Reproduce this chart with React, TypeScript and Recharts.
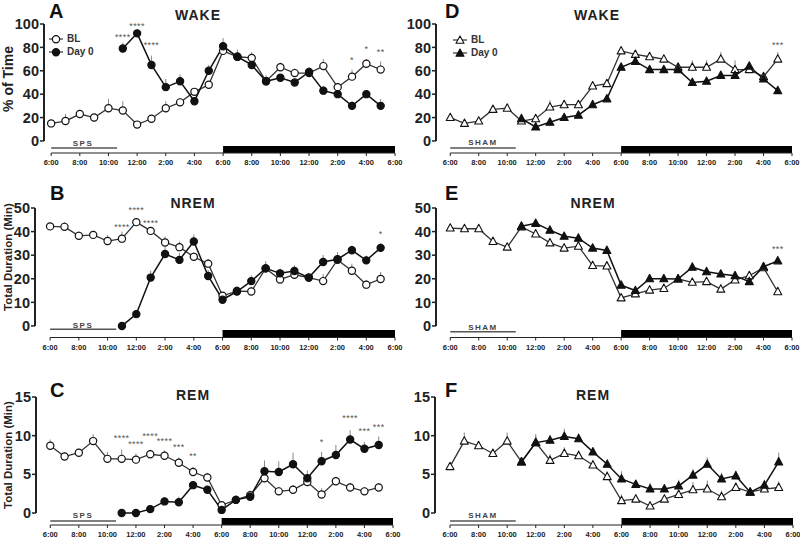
import React from 'react';
import { ComposedChart, Line, Scatter, XAxis, YAxis, ReferenceLine, ReferenceArea, ErrorBar, Legend } from 'recharts';

const FONT = '"Liberation Sans", Arial, sans-serif';

// one point per hour, starting at 6:00 am (0) through 5:00 am next day (23)
const hours = [0, 1, 2, 3, 4, 5, 6, 7, 8, 9, 10, 11, 12, 13, 14, 15, 16, 17, 18, 19, 20, 21, 22, 23];
const xTicks = [0, 2, 4, 6, 8, 10, 12, 14, 16, 18, 20, 22, 24];
const xTickLabels = ['6:00', '8:00', '10:00', '12:00', '2:00', '4:00', '6:00', '8:00', '10:00', '12:00', '2:00', '4:00', '6:00'];
const seriesNames = ['BL', 'Day 0'];

const lightsOff = [12, 24];
const procedureEnd = 4.6;

const _ = null;

// WAKE (% of time)
const wakeSpsBL = [15, 17, 23, 20, 28, 26, 14, 19, 28, 33, 42, 48, 77, 72, 71, 51, 63, 58, 58, 64, 46, 55, 66, 61];
const wakeSpsBLErr = [2, 6, 3, 2, 8, 8, 1, 2, 6, 3, 3, 3, 5, 4, 5, 4, 4, 4, 4, 6, 3, 6, 4, 7];
const wakeSpsDay0 = [_, _, _, _, _, 79, 92, 65, 46, 51, 34, 60, 81, 72, 65, 51, 54, 50, 59, 43, 40, 30, 40, 30];
const wakeSpsDay0Err = [0, 0, 0, 0, 0, 5, 3, 8, 7, 6, 2, 5, 7, 6, 5, 5, 3, 3, 4, 4, 4, 4, 3, 6];
const wakeShamBL = [20, 15, 17, 27, 28, 17, 19, 29, 31, 31, 47, 49, 77, 74, 72, 70, 63, 63, 63, 70, 61, 61, 55, 70];
const wakeShamBLErr = [2, 2, 2, 2, 3, 3, 3, 6, 4, 4, 3, 4, 3, 3, 3, 3, 4, 6, 6, 6, 8, 5, 3, 6];
const wakeShamDay0 = [_, _, _, _, _, 19, 12, 16, 20, 22, 31, 36, 63, 68, 61, 61, 61, 50, 51, 56, 56, 64, 53, 43];
const wakeShamDay0Err = [0, 0, 0, 0, 0, 3, 2, 2, 2, 2, 3, 3, 3, 3, 2, 2, 2, 2, 2, 3, 3, 3, 3, 4];

// NREM (total duration, min)
const nremSpsBL = [42.2, 42, 38.2, 38.6, 36, 37, 44, 40.3, 35.4, 33.4, 29.3, 26.4, 12.8, 14.8, 14.6, 24.4, 19.7, 21.7, 20.5, 19, 28, 23.4, 17.5, 19.9];
const nremSpsBLErr = [1.5, 2, 2, 1.5, 2.5, 3, 1.5, 1.5, 2.5, 2.5, 2, 2, 1.5, 2, 2, 2, 2, 2, 1.5, 3, 2, 3, 2, 3];
const nremSpsDay0 = [_, _, _, _, _, 0, 5, 20.5, 30.5, 28, 35.8, 21.2, 11.1, 14.6, 19, 24.4, 22.3, 23.3, 20.5, 27.1, 28.3, 32.1, 27.8, 33.1];
const nremSpsDay0Err = [0, 0, 0, 0, 0, 1, 1.5, 3, 3, 3, 3, 2.5, 1.5, 2, 2.5, 3, 2, 2.5, 2, 3, 3, 2, 2, 2];
const nremShamBL = [41.5, 41.2, 41.2, 35.8, 33.4, 42, 39, 35.2, 33, 33.8, 25.6, 25.4, 11.9, 13.6, 15.2, 15.9, 19.9, 18.5, 18.8, 15.6, 19.5, 21.3, 24.7, 14.5];
const nremShamBLErr = [1, 1, 1, 1.5, 1.5, 1.5, 2, 2, 2, 2, 2, 2, 1.5, 1.5, 1.5, 1.5, 1.5, 2, 2, 2, 2, 2, 1.5, 2];
const nremShamDay0 = [_, _, _, _, _, 42.3, 43.5, 40.6, 38, 37.2, 33, 32, 17.3, 15, 20, 20, 19.9, 24.9, 23, 22, 21.3, 18.8, 25.1, 27.6];
const nremShamDay0Err = [0, 0, 0, 0, 0, 1.5, 1.2, 1.5, 1.4, 1.5, 1.3, 1.5, 1.6, 1.4, 1.5, 1.2, 1.5, 1.4, 1.5, 1.6, 1.3, 1.5, 2, 1.5];

// REM (total duration, min)
const remSpsBL = [8.7, 7.3, 7.8, 9.3, 7.0, 7.0, 6.9, 7.6, 7.4, 6.5, 5.3, 4.6, 1.0, 1.7, 2.3, 4.5, 2.8, 3.0, 4.0, 2.4, 4.1, 3.3, 2.8, 3.3];
const remSpsBLErr = [0.8, 0.6, 0.5, 0.9, 0.9, 1.2, 0.8, 0.6, 0.7, 0.7, 0.7, 0.6, 0.5, 0.6, 0.6, 0.8, 0.6, 0.6, 0.8, 0.8, 0.6, 0.6, 0.5, 0.6];
const remSpsDay0 = [_, _, _, _, _, 0, 0, 0.5, 1.5, 1.4, 3.6, 3.0, 0.4, 1.7, 2.1, 5.4, 5.3, 6.3, 4.5, 6.7, 7.5, 9.5, 8.3, 8.8];
const remSpsDay0Err = [0, 0, 0, 0, 0, 0.1, 0.1, 0.3, 0.5, 0.7, 0.5, 0.5, 0.4, 0.5, 0.6, 1.4, 1.4, 1.5, 1.0, 1.2, 1.3, 1.2, 0.9, 1.1];
const remShamBL = [6.0, 9.3, 8.7, 7.7, 9.3, 6.6, 9.1, 6.8, 7.7, 7.4, 6.2, 4.7, 1.6, 1.8, 0.9, 1.8, 2.4, 3.0, 3.1, 2.1, 3.3, 2.7, 3.1, 3.3];
const remShamBLErr = [0.4, 1.1, 0.5, 0.6, 1.1, 0.5, 1.1, 0.8, 0.8, 0.7, 0.7, 0.7, 0.8, 0.6, 0.6, 0.5, 0.5, 1.0, 1.1, 0.8, 0.6, 0.5, 0.8, 0.8];
const remShamDay0 = [_, _, _, _, _, 6.6, 9.1, 9.4, 9.9, 9.6, 7.9, 6.3, 4.4, 3.7, 3.1, 3.1, 3.5, 4.9, 6.3, 4.4, 4.8, 2.7, 3.6, 6.6];
const remShamDay0Err = [0, 0, 0, 0, 0, 0.6, 0.9, 0.7, 1.0, 0.7, 0.5, 0.6, 1.0, 0.5, 0.8, 0.6, 0.8, 0.8, 0.9, 0.8, 0.7, 0.5, 0.7, 1.2];

// significance marks: hour, height, text
const wakeSpsStars = [
  { h: 5, y: 91, s: '****' }, { h: 6, y: 100, s: '****' }, { h: 7, y: 84, s: '****' },
  { h: 21, y: 71, s: '*' }, { h: 22, y: 80, s: '*' }, { h: 23, y: 78, s: '**' },
];
const wakeShamStars = [{ h: 23, y: 84, s: '***' }];
const nremSpsStars = [
  { h: 5, y: 42.6, s: '****' }, { h: 6, y: 50, s: '****' }, { h: 7, y: 44.3, s: '****' }, { h: 23, y: 39.8, s: '*' },
];
const nremShamStars = [{ h: 23, y: 33.4, s: '***' }];
const remSpsStars = [
  { h: 5, y: 9.9, s: '****' }, { h: 6, y: 9.2, s: '****' }, { h: 7, y: 10.2, s: '****' }, { h: 8, y: 9.6, s: '****' },
  { h: 9, y: 8.8, s: '***' }, { h: 10, y: 7.6, s: '**' }, { h: 19, y: 9.5, s: '*' },
  { h: 21, y: 12.5, s: '****' }, { h: 22, y: 10.9, s: '***' }, { h: 23, y: 11.4, s: '***' },
];
const remShamStars: { h: number; y: number; s: string }[] = [];

const marker = (shape: string, filled: boolean, cx: number, cy: number, key?: any) =>
  shape === 'circle' ? (
    <circle key={key} cx={cx} cy={cy} r={3.6} fill={filled ? '#111' : '#fff'} stroke="#111" strokeWidth={1.2} />
  ) : (
    <polygon
      key={key}
      points={`${cx},${cy - 4.4} ${cx - 4},${cy + 3} ${cx + 4},${cy + 3}`}
      fill={filled ? '#111' : '#fff'}
      stroke="#111"
      strokeWidth={1.1}
      strokeLinejoin="round"
    />
  );

const makeDot = (shape: string, filled: boolean) => (p: any) => {
  if (p.cx == null || p.cy == null || p.value == null || isNaN(p.cy)) return <g key={`d-${p.index}`} />;
  return marker(shape, filled, p.cx, p.cy, `d-${p.index}`);
};

const starShape = (p: any) => {
  if (p.cx == null || p.cy == null) return <g />;
  return (
    <text x={p.cx} y={p.cy + 5} textAnchor="middle" fontSize={9} fontFamily={FONT} fill="#555" letterSpacing={0.4}>
      {p.payload.s}
    </text>
  );
};

const renderLegend = (shape: string) => (props: any) => (
  <div style={{ fontFamily: FONT, fontSize: 10, fontWeight: 'bold', color: '#333' }}>
    {(props.payload || [])
      .filter((e: any) => seriesNames.includes(e.value))
      .map((e: any, i: number) => (
        <div key={i} style={{ display: 'flex', alignItems: 'center', height: 13 }}>
          <svg width={16} height={12}>
            <line x1={1} y1={6} x2={15} y2={6} stroke="#333" strokeWidth={1.2} />
            {marker(shape, e.value === 'Day 0', 8, 6.3)}
          </svg>
          <span style={{ marginLeft: 3 }}>{e.value}</span>
        </div>
      ))}
  </div>
);

const panels = [
  {
    id: 'A', left: 0, top: 0, height: 175, margin: { top: 24, right: 25, bottom: 6, left: 4 }, yAxisWidth: 40, xAxisHeight: 16,
    xMin: -0.5, yDomain: [-10.3, 100], yTicks: [0, 20, 40, 60, 80, 100], barTop: -4.3, stripY: -6,
    shape: 'circle', bl: wakeSpsBL, blErr: wakeSpsBLErr, d0: wakeSpsDay0, d0Err: wakeSpsDay0Err, stars: wakeSpsStars,
    legend: { left: 48, top: 32 },
  },
  {
    id: 'B', left: 0, top: 175, height: 180, margin: { top: 33, right: 25, bottom: 1.5, left: 0 }, yAxisWidth: 35, xAxisHeight: 16,
    xMin: -1.05, yDomain: [-4.9, 50], yTicks: [0, 10, 20, 30, 40, 50], barTop: -1.7, stripY: -1.4,
    shape: 'circle', bl: nremSpsBL, blErr: nremSpsBLErr, d0: nremSpsDay0, d0Err: nremSpsDay0Err, stars: nremSpsStars,
  },
  {
    id: 'C', left: 0, top: 355, height: 184, margin: { top: 42, right: 27, bottom: 0, left: 0 }, yAxisWidth: 36, xAxisHeight: 14,
    xMin: -1, yDomain: [-1.55, 15], yTicks: [0, 5, 10, 15], barTop: -0.65, stripY: -1.03,
    shape: 'circle', bl: remSpsBL, blErr: remSpsBLErr, d0: remSpsDay0, d0Err: remSpsDay0Err, stars: remSpsStars,
  },
  {
    id: 'D', left: 400, top: 0, height: 175, margin: { top: 24, right: 28, bottom: 6, left: 0 }, yAxisWidth: 36, xAxisHeight: 16,
    xMin: -1, yDomain: [-10.3, 100], yTicks: [0, 20, 40, 60, 80, 100], barTop: -4.3, stripY: -6,
    shape: 'triangle', bl: wakeShamBL, blErr: wakeShamBLErr, d0: wakeShamDay0, d0Err: wakeShamDay0Err, stars: wakeShamStars,
    legend: { left: 52, top: 33 },
  },
  {
    id: 'E', left: 400, top: 175, height: 180, margin: { top: 33, right: 28, bottom: 1.5, left: 0 }, yAxisWidth: 36, xAxisHeight: 16,
    xMin: -1, yDomain: [-4.9, 50], yTicks: [0, 10, 20, 30, 40, 50], barTop: -1.7, stripY: -2.5,
    shape: 'triangle', bl: nremShamBL, blErr: nremShamBLErr, d0: nremShamDay0, d0Err: nremShamDay0Err, stars: nremShamStars,
  },
  {
    id: 'F', left: 400, top: 355, height: 184, margin: { top: 42, right: 27, bottom: 0, left: 0 }, yAxisWidth: 35, xAxisHeight: 14,
    xMin: -1.05, yDomain: [-1.55, 15], yTicks: [0, 5, 10, 15], barTop: -0.65, stripY: -1.03,
    shape: 'triangle', bl: remShamBL, blErr: remShamBLErr, d0: remShamDay0, d0Err: remShamDay0Err, stars: remShamStars,
  },
];

// static text: panel letters, titles, strip labels, y-axis titles
const letters = [
  { t: 'A', x: 49, y: 18 }, { t: 'B', x: 50, y: 200 }, { t: 'C', x: 50, y: 397 },
  { t: 'D', x: 445, y: 18 }, { t: 'E', x: 445, y: 200 }, { t: 'F', x: 445, y: 397 },
];
const titles = [
  { t: 'WAKE', x: 198, y: 20 }, { t: 'NREM', x: 193, y: 208 }, { t: 'REM', x: 193, y: 400 },
  { t: 'WAKE', x: 597, y: 20 }, { t: 'NREM', x: 593, y: 208 }, { t: 'REM', x: 593, y: 400 },
];
const stripLabels = [
  { t: 'SPS', x: 83, y: 146 }, { t: 'SPS', x: 83, y: 328 }, { t: 'SPS', x: 83, y: 518 },
  { t: 'SHAM', x: 483, y: 145 }, { t: 'SHAM', x: 483, y: 330 }, { t: 'SHAM', x: 483, y: 518 },
];
const yTitles = [
  { t: '% of Time', x: 13, y: 79, size: 14 },
  { t: 'Total Duration (Min)', x: 11.5, y: 257, size: 11.5 },
  { t: 'Total Duration (Min)', x: 11.5, y: 455, size: 11.5 },
];

function Panel(p: any) {
  const rows = hours.map((h, i) => ({
    h,
    bl: p.bl[i],
    d0: p.d0[i],
    blErr: p.bl[i] == null ? null : [0, p.blErr[i]],
    d0Err: p.d0[i] == null ? null : [0, p.d0Err[i]],
  }));
  const [yMin, yMax] = p.yDomain;
  return (
    <div style={{ position: 'absolute', left: p.left, top: p.top }}>
      <ComposedChart width={420} height={p.height} data={rows} margin={p.margin}>
        <XAxis
          type="number"
          dataKey="h"
          domain={[p.xMin, 24]}
          ticks={xTicks}
          interval={0}
          tickFormatter={(v: number) => xTickLabels[xTicks.indexOf(v)]}
          axisLine={false}
          tickLine={{ stroke: '#222' }}
          tickSize={3}
          tickMargin={4}
          height={p.xAxisHeight}
          tick={{ fontSize: 7.5, fontWeight: 'bold', fill: '#222', fontFamily: FONT }}
        />
        <YAxis
          type="number"
          domain={p.yDomain}
          ticks={p.yTicks}
          interval={0}
          axisLine={false}
          tickLine={{ stroke: '#222', strokeWidth: 1.5 }}
          tickSize={4}
          tickMargin={1}
          width={p.yAxisWidth}
          tick={{ fontSize: 14.5, fontWeight: 'bold', fill: '#222', fontFamily: FONT }}
        />
        <ReferenceArea x1={lightsOff[0]} x2={lightsOff[1]} y1={yMin} y2={p.barTop} fill="#000" fillOpacity={1} stroke="none" ifOverflow="visible" />
        <ReferenceLine segment={[{ x: 0, y: yMin }, { x: 24, y: yMin }]} stroke="#222" strokeWidth={1.2} ifOverflow="visible" />
        <ReferenceLine segment={[{ x: p.xMin, y: 0 }, { x: p.xMin, y: yMax }]} stroke="#222" strokeWidth={2} ifOverflow="visible" />
        <ReferenceLine segment={[{ x: 0, y: p.stripY }, { x: procedureEnd, y: p.stripY }]} stroke="#555" strokeWidth={1.5} ifOverflow="visible" />
        <Line dataKey="bl" name="BL" stroke="#333" strokeWidth={1.3} dot={makeDot(p.shape, false)} activeDot={false} isAnimationActive={false}>
          <ErrorBar dataKey="blErr" direction="y" width={0} stroke="#888" strokeWidth={1} />
        </Line>
        <Line dataKey="d0" name="Day 0" stroke="#111" strokeWidth={1.5} dot={makeDot(p.shape, true)} activeDot={false} isAnimationActive={false}>
          <ErrorBar dataKey="d0Err" direction="y" width={0} stroke="#888" strokeWidth={1} />
        </Line>
        <Scatter name="sig" data={p.stars} dataKey="y" shape={starShape} legendType="none" isAnimationActive={false} />
        {p.legend && (
          <Legend
            layout="vertical"
            align="center"
            verticalAlign="middle"
            wrapperStyle={{ left: p.legend.left, top: p.legend.top, width: 'auto' }}
            content={renderLegend(p.shape)}
          />
        )}
      </ComposedChart>
    </div>
  );
}

export default function App() {
  return (
    <div style={{ position: 'absolute', left: 0, top: 0, width: 800, height: 539, background: '#fff', overflow: 'hidden' }}>
      {panels.map((p) => (
        <Panel key={p.id} {...p} />
      ))}
      <svg width={800} height={539} style={{ position: 'absolute', left: 0, top: 0, pointerEvents: 'none' }}>
        {letters.map((l) => (
          <text key={l.t} x={l.x} y={l.y} fontFamily={FONT} fontSize={20} fontWeight="bold" fill="#111">
            {l.t}
          </text>
        ))}
        {titles.map((t, i) => (
          <text key={i} x={t.x} y={t.y} textAnchor="middle" fontFamily={FONT} fontSize={14} fontWeight="bold" letterSpacing={1} fill="#222">
            {t.t}
          </text>
        ))}
        {stripLabels.map((t, i) => (
          <text key={i} x={t.x} y={t.y} textAnchor="middle" fontFamily={FONT} fontSize={8} fontWeight="bold" letterSpacing={1.5} fill="#444">
            {t.t}
          </text>
        ))}
        {yTitles.map((t, i) => (
          <text
            key={i}
            x={t.x}
            y={t.y}
            textAnchor="middle"
            transform={`rotate(-90, ${t.x}, ${t.y})`}
            fontFamily={FONT}
            fontSize={t.size}
            fontWeight="bold"
            fill="#222"
          >
            {t.t}
          </text>
        ))}
      </svg>
    </div>
  );
}
